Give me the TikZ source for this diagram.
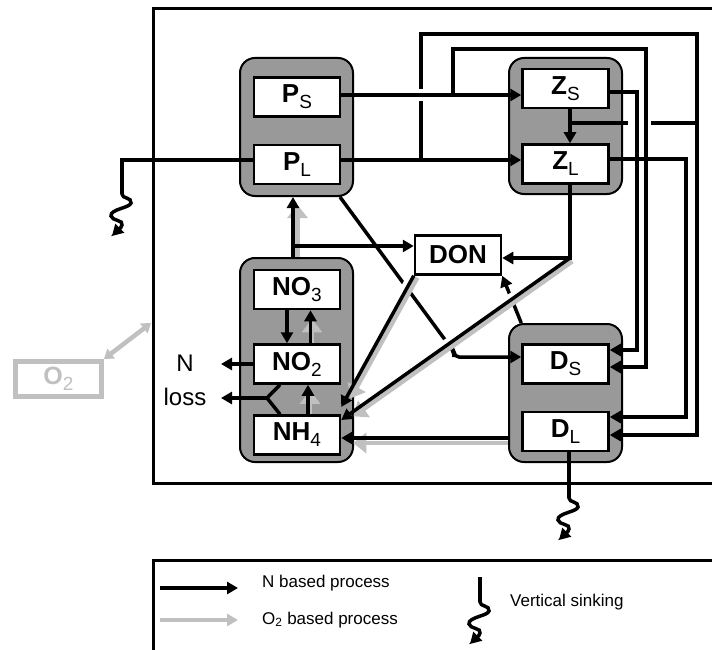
\documentclass[tikz,border=0pt]{standalone}
\usepackage{fontspec}
\setmainfont{Liberation Sans}
\usepackage{tikz}
\usetikzlibrary{arrows.meta,calc}
\definecolor{grpgray}{HTML}{999999}
\definecolor{ogray}{HTML}{C0C0C0}
\newcommand{\poolsub}[1]{\raisebox{-6pt}{\fontsize{19}{20}\mdseries\selectfont #1}}
\tikzset{
  arr/.style={-{Triangle[length=11pt,width=12pt]},line width=3.5pt},
  oarr/.style={-{Triangle[length=13pt,width=20pt]},line width=4.5pt,ogray},
  doarr/.style={{Triangle[length=9pt,width=12pt]}-{Triangle[length=9pt,width=12pt]},
    line width=4.5pt,ogray},
  ln/.style={line width=3.5pt},
  halo/.style={white,line width=12pt},
  grp/.style={rectangle,rounded corners=15pt,draw,fill=grpgray,line width=2pt,
    minimum width=113pt,inner sep=0pt},
  box/.style={rectangle,draw,fill=white,line width=2.5pt,minimum width=86pt,
    minimum height=39pt,inner sep=0pt,font=\bfseries\fontsize{26}{28}\selectfont},
  lbl/.style={font=\fontsize{24}{34}\selectfont,align=center,inner sep=0pt},
  lgtxt/.style={font=\fontsize{17}{20}\selectfont,anchor=west,inner sep=0pt},
  sink/.pic={
    \draw[arr] (0,-1) -- (0,0) .. controls (0,5) and (10,3) .. (9,9)
      .. controls (8,14) and (-12,15) .. (-11,22)
      .. controls (-10,27) and (2,26) .. (0,31)
      .. controls (-1,35) and (-6,38) .. (-10,42);
  },
}

\begin{document}
\begin{tikzpicture}[x=1pt,y=-1pt]
\useasboundingbox (0,0) rectangle (712,650);
\clip (0,0) rectangle (712,650);

% frames
\draw[line width=3pt] (720,9) -- (153,9) -- (153,483) -- (720,483);
\draw[line width=3pt] (720,560) -- (153,560) -- (153,660);

% groups
\node[grp,minimum height=138pt] (Pgrp) at (296.5,127) {};
\node[grp,minimum height=136pt] (Zgrp) at (565.5,126) {};
\node[grp,minimum height=204pt] (Ngrp) at (296.5,360) {};
\node[grp,minimum height=138pt] (Dgrp) at (565.5,393) {};

% pools
\node[box] (PS) at (297,97) {P\poolsub{S}};
\node[box] (PL) at (297,164.5) {P\poolsub{L}};
\node[box] (ZS) at (565.5,88.5) {Z\poolsub{S}};
\node[box] (ZL) at (565.5,164) {Z\poolsub{L}};
\node[box] (NO3) at (297,289.5) {NO\poolsub{3}};
\node[box] (NO2) at (297,364) {NO\poolsub{2}};
\node[box] (NH4) at (297,435) {NH\poolsub{4}};
\node[box] (DS) at (565.5,364) {D\poolsub{S}};
\node[box] (DL) at (565.5,431.5) {D\poolsub{L}};
\node[box] (DON) at (458,255) {DON};
\node[box,draw=ogray,text=ogray,line width=5pt,minimum height=35pt,
  font=\bfseries\fontsize{25}{27}\selectfont] (O2) at (58.5,379) {O\poolsub{2}};
\node[lbl] (Nloss) at (185,380) {N\\loss};

% branch points
\coordinate (cPS) at (453,95);
\coordinate (cPL) at (421,160);
\coordinate (cZS) at (637,92);
\coordinate (cZL) at (686,159);
\coordinate (cT1) at (646,49);
\coordinate (cT2) at (697,34);
\coordinate (cZZ) at (570,123);
\coordinate (cZD) at (570,258);
\coordinate (cPD) at (454,352);
\coordinate (cND) at (293,246);
\coordinate (cY) at (267,398);
\coordinate (cLoss) at (221,398);
\coordinate (sinkP) at (122,194);
\coordinate (sinkD) at (569,498);
\coordinate (cO2) at (151,323);

% upper loops to detritus
\draw[arr] (cPL) |- (cT2) |- ([yshift=-3.5pt]DL.east);
\draw[ln] (cZZ) -- (cZZ -| cT2);
\draw[halo] ([xshift=-9pt]cZS |- cZZ) -- ([xshift=5pt]cT1 |- cZZ);
\draw[arr] (ZS.east |- cZS) -| ([yshift=14pt]cZS |- DS.east) -- ([yshift=14pt]DS.east);
\draw[arr] (cPS) |- (cT1) -- ([yshift=-3pt]cT1 |- DS.east) -- ([yshift=-3pt]DS.east);
\draw[arr] (ZL.east |- cZL) -| ([yshift=14.5pt]cZL |- DL.east) -- ([yshift=14.5pt]DL.east);
\draw[halo] ([xshift=-6pt]cPL |- cPS) -- ([xshift=6pt]cPL |- cPS);
\draw[arr] (PS.east |- cPS) -- (cPS -| ZS.west);
\draw[arr] (PL.east |- cPL) -- (cPL -| ZL.west);
\draw[arr] (ZS.south -| cZZ) -- (ZL.north -| cZZ);

% middle
\draw[arr,rounded corners=5pt] ([xshift=-14pt]Pgrp.south east) -- (cPD) |- ([yshift=7pt]DS.west);
\draw[arr] (DS.west |- Dgrp.north) -- (DON.south east);
\draw[halo] ($(DON.south west)!0.03!([yshift=28pt]NH4.east)$) -- ($(DON.south west)!0.17!([yshift=28pt]NH4.east)$);
\draw[halo] ($(cZD)!0.215!([yshift=15pt]NH4.east)$) -- ($(cZD)!0.29!([yshift=15pt]NH4.east)$);
\draw[halo] ($(cZD)!0.49!([yshift=15pt]NH4.east)$) -- ($(cZD)!0.57!([yshift=15pt]NH4.east)$);

% O2 based
\draw[oarr,shorten >=12pt] ([shift={(2.3pt,-3.3pt)}]cZD) -- ([shift={(2.3pt,11.7pt)}]NH4.east);
\draw[oarr,shorten >=12pt] ([shift={(3.5pt,-1.9pt)}]DON.south west) -- ([shift={(3.5pt,26.1pt)}]NH4.east);
\draw[oarr,shorten >=12pt] ([yshift=-8pt]NH4.east -| Dgrp.west) -- ([yshift=-8pt]NH4.east);
\draw[oarr,shorten >=8pt] ([xshift=1pt]Ngrp.north) -- ([xshift=1pt]Pgrp.south);
\draw[oarr,shorten >=9pt] ([xshift=15pt]NO2.north) -- ([xshift=15pt]NO3.south);
\draw[oarr,shorten >=6pt] ([xshift=13pt]NH4.north) -- ([xshift=13pt]NO2.south);
\draw[doarr] (O2.north east) -- (cO2);

% N based
\draw[arr] ([xshift=-3.5pt]Ngrp.north) -- ([xshift=-3.5pt]Pgrp.south);
\draw[arr] (cND) -- (cND -| DON.west);
\draw[arr] ([xshift=-10pt]NO3.south) -- ([xshift=-10pt]NO2.north);
\draw[arr] ([xshift=13.5pt]NO2.north) -- ([xshift=13.5pt]NO3.south);
\draw[arr] ([xshift=11pt]NH4.north) -- ([xshift=11pt]NO2.south);
\draw[arr] (ZL.south -| cZD) -- (cZD) -- (cZD -| DON.east);
\draw[arr] (cZD) -- ([yshift=15pt]NH4.east);
\draw[arr] (DON.south west) -- ([yshift=28pt]NH4.east);
\draw[arr] ([yshift=-3pt]NH4.east -| Dgrp.west) -- ([yshift=-3pt]NH4.east);

% N loss
\draw[arr] (NO2.west) -- (NO2.west -| cLoss);
\draw[ln] ([xshift=-17pt]NO2.south) -- (cY) -- ([xshift=-17pt]NH4.north);
\draw[arr] (cY) -- (cLoss);

% sinking
\draw[ln] (PL.west |- cPL) -| (sinkP);
\pic at (sinkP) {sink};
\draw[ln] (DL.south -| sinkD) -- (sinkD);
\pic at (sinkD) {sink};

% legend
\coordinate (lgA) at (160,588);
\coordinate (lgB) at (160,620);
\coordinate (lgS) at (480,577);
\coordinate (lgW) at (480,602);
\draw[arr] (lgA) -- ++(78,0);
\draw[arr,ogray] (lgB) -- ++(78,0);
\node[lgtxt] (lgN) at (262,583) {N based process};
\node[lgtxt] (lgO) at (262,620) {O\textsubscript{2} based process};
\draw[ln] (lgS) -- (lgW);
\pic at (lgW) {sink};
\node[lgtxt] (lgV) at (510,602) {Vertical sinking};
\end{tikzpicture}
\end{document}
